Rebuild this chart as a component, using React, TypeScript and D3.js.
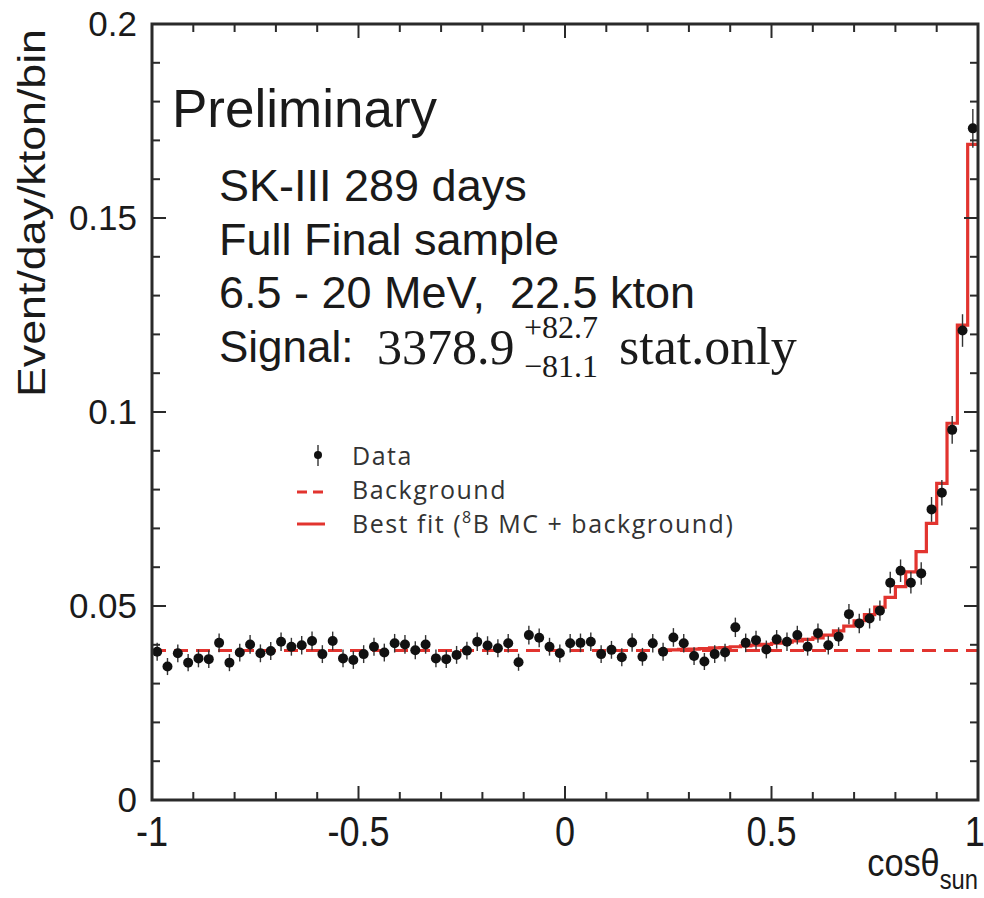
import React, { useEffect, useRef } from "react";
import * as d3 from "d3";

// cos(theta_sun) binning: 80 bins from -1 to 1
const binEdgesLo = -1;
const binWidth = 0.025;

const dataValues = [
  0.0382, 0.0344, 0.0378, 0.0354, 0.0365, 0.0363, 0.0405, 0.0354, 0.038, 0.0401,
  0.0378, 0.0384, 0.0408, 0.0395, 0.0399, 0.041, 0.0376, 0.041, 0.0365, 0.0361,
  0.0376, 0.0395, 0.038, 0.0404, 0.0401, 0.0386, 0.0401, 0.0365, 0.0363, 0.0374,
  0.0385, 0.0408, 0.0398, 0.0391, 0.0404, 0.0355, 0.0425, 0.0418, 0.0395, 0.0378,
  0.0404, 0.0405, 0.0408, 0.0376, 0.0387, 0.0368, 0.0406, 0.0369, 0.0404, 0.0382,
  0.0419, 0.0404, 0.0371, 0.0357, 0.0376, 0.038, 0.0445, 0.0405, 0.0412, 0.0388,
  0.0414, 0.0408, 0.0425, 0.0395, 0.043, 0.0399, 0.0421, 0.0479, 0.0455, 0.0468,
  0.0488, 0.056, 0.0591, 0.056, 0.0584, 0.0749, 0.0792, 0.0954, 0.121, 0.1731,
];

const dataErrors = [
  0.0023, 0.0022, 0.0023, 0.0022, 0.0023, 0.0023, 0.0024, 0.0022, 0.0023, 0.0024,
  0.0023, 0.0023, 0.0024, 0.0023, 0.0024, 0.0024, 0.0023, 0.0024, 0.0023, 0.0023,
  0.0023, 0.0023, 0.0023, 0.0024, 0.0024, 0.0023, 0.0024, 0.0023, 0.0023, 0.0023,
  0.0023, 0.0024, 0.0024, 0.0023, 0.0024, 0.0022, 0.0024, 0.0024, 0.0023, 0.0023,
  0.0024, 0.0024, 0.0024, 0.0023, 0.0023, 0.0023, 0.0024, 0.0023, 0.0024, 0.0023,
  0.0024, 0.0024, 0.0023, 0.0022, 0.0023, 0.0023, 0.0025, 0.0024, 0.0024, 0.0023,
  0.0024, 0.0024, 0.0024, 0.0023, 0.0025, 0.0024, 0.0024, 0.0026, 0.0025, 0.0026,
  0.0026, 0.0028, 0.0029, 0.0028, 0.0029, 0.0032, 0.0033, 0.0036, 0.0042, 0.005,
];

// best fit histogram (8B MC + background), drawn from bin 49 on
const fitStartBin = 49;
const fitValues = [
  0.0386, 0.0387, 0.0388, 0.0389, 0.039, 0.0392, 0.0393, 0.0395, 0.0397, 0.0399,
  0.0401, 0.0404, 0.0407, 0.041, 0.0414, 0.0418, 0.0425, 0.0436, 0.0448, 0.0462,
  0.0478, 0.0497, 0.0522, 0.055, 0.0588, 0.064, 0.0713, 0.0816, 0.0971, 0.1224,
  0.169,
];

const background = 0.0385;

const xTickLabels = ["-1", "-0.5", "0", "0.5", "1"];
const yTickLabels = ["0", "0.05", "0.1", "0.15", "0.2"];

const infoLines = ["SK-III 289 days", "Full Final sample", "6.5 - 20 MeV,  22.5 kton"];
const legendLabels = ["Data", "Background", "Best fit ("];

const RED = "#e2342f";
const INK = "#1a1a1a";
const SANS = "'Liberation Sans', Arial, sans-serif";
const SERIF = "'Liberation Serif', 'Times New Roman', serif";
const LEG = "'Open Sans', 'Noto Sans', sans-serif";

const App = () => {
  const ref = useRef<SVGSVGElement>(null);

  useEffect(() => {
    const svg = d3.select(ref.current);
    svg.selectAll("*").remove();

    const left = 152, right = 978, top = 24, bottom = 800;
    const x = d3.scaleLinear().domain([-1, 1]).range([left, right]);
    const y = d3.scaleLinear().domain([0, 0.2]).range([bottom, top]);

    const center = (i: number) => binEdgesLo + (i + 0.5) * binWidth;

    // background (dashed)
    svg
      .append("line")
      .attr("x1", x(-1))
      .attr("x2", x(1))
      .attr("y1", y(background))
      .attr("y2", y(background))
      .attr("stroke", RED)
      .attr("stroke-width", 3)
      .attr("stroke-dasharray", "14 8");

    // best fit histogram
    const steps: [number, number][] = [];
    fitValues.forEach((v, k) => {
      const i = fitStartBin + k;
      steps.push([binEdgesLo + i * binWidth, v]);
      steps.push([binEdgesLo + (i + 1) * binWidth, v]);
    });
    const stepLine = d3
      .line<[number, number]>()
      .x((d) => x(d[0]))
      .y((d) => y(d[1]));
    svg
      .append("path")
      .attr("d", stepLine(steps))
      .attr("fill", "none")
      .attr("stroke", RED)
      .attr("stroke-width", 3.2);

    // data points with error bars
    const pts = svg.append("g");
    dataValues.forEach((v, i) => {
      pts
        .append("line")
        .attr("x1", x(center(i)))
        .attr("x2", x(center(i)))
        .attr("y1", y(v - dataErrors[i]))
        .attr("y2", y(v + dataErrors[i]))
        .attr("stroke", "#333")
        .attr("stroke-width", 1.4);
      pts
        .append("circle")
        .attr("cx", x(center(i)))
        .attr("cy", y(v))
        .attr("r", 5)
        .attr("fill", "#111");
    });

    // frame + ticks
    const frame = svg.append("g").attr("stroke", "#2a2a2a");
    frame
      .append("rect")
      .attr("x", left)
      .attr("y", top)
      .attr("width", right - left)
      .attr("height", bottom - top)
      .attr("fill", "none")
      .attr("stroke-width", 3);

    d3.range(-1, 1.0001, 0.1).forEach((t) => {
      const major = Math.abs(t * 2 - Math.round(t * 2)) < 1e-6;
      const len = major ? 14 : 8;
      frame.append("line").attr("x1", x(t)).attr("x2", x(t)).attr("y1", bottom).attr("y2", bottom - len).attr("stroke-width", 2);
      frame.append("line").attr("x1", x(t)).attr("x2", x(t)).attr("y1", top).attr("y2", top + len).attr("stroke-width", 2);
    });
    d3.range(0, 0.2001, 0.01).forEach((t) => {
      const major = Math.abs(t * 20 - Math.round(t * 20)) < 1e-6;
      const len = major ? 14 : 8;
      frame.append("line").attr("y1", y(t)).attr("y2", y(t)).attr("x1", left).attr("x2", left + len).attr("stroke-width", 2);
      frame.append("line").attr("y1", y(t)).attr("y2", y(t)).attr("x1", right).attr("x2", right - len).attr("stroke-width", 2);
    });

    // tick labels (narrow look on the x axis)
    xTickLabels.forEach((s) => {
      svg
        .append("text")
        .attr("transform", `translate(${x(+s)},846) scale(0.86,1)`)
        .attr("text-anchor", s === "1" ? "end" : "middle")
        .attr("dx", s === "1" ? 8 : 0)
        .attr("font-family", SANS)
        .attr("font-size", 42)
        .attr("fill", INK)
        .text(s);
    });
    yTickLabels.forEach((s) => {
      svg
        .append("text")
        .attr("x", 137)
        .attr("y", y(+s) + 12)
        .attr("text-anchor", "end")
        .attr("font-family", SANS)
        .attr("font-size", 35)
        .attr("fill", INK)
        .text(s);
    });

    // axis titles
    svg
      .append("text")
      .attr("transform", "translate(45,213) rotate(-90)")
      .attr("text-anchor", "middle")
      .attr("font-family", SANS)
      .attr("font-size", 39)
      .attr("textLength", 368)
      .attr("lengthAdjust", "spacingAndGlyphs")
      .attr("fill", INK)
      .text("Event/day/kton/bin");

    const xt = svg
      .append("text")
      .attr("transform", "translate(978,876) scale(0.88,1)")
      .attr("text-anchor", "end")
      .attr("font-family", SANS)
      .attr("font-size", 39)
      .attr("fill", INK);
    xt.append("tspan").text("cosθ");
    xt.append("tspan").attr("font-size", 27).attr("dy", 13).text("sun");

    // annotation text
    svg
      .append("text")
      .attr("x", 172)
      .attr("y", 127)
      .attr("font-family", SANS)
      .attr("font-size", 53)
      .attr("fill", INK)
      .text("Preliminary");
    infoLines.forEach((s, i) => {
      svg
        .append("text")
        .attr("x", 219)
        .attr("y", 201 + i * 53.5)
        .attr("font-family", SANS)
        .attr("font-size", 45)
        .attr("fill", INK)
        .attr("style", "white-space: pre")
        .text(s);
    });
    svg
      .append("text")
      .attr("x", 219)
      .attr("y", 362)
      .attr("font-family", SANS)
      .attr("font-size", 44)
      .attr("fill", INK)
      .text("Signal:");
    svg
      .append("text")
      .attr("x", 377)
      .attr("y", 364)
      .attr("font-family", SERIF)
      .attr("font-size", 50)
      .attr("fill", INK)
      .text("3378.9");
    svg
      .append("text")
      .attr("x", 524)
      .attr("y", 338)
      .attr("font-family", SERIF)
      .attr("font-size", 32)
      .attr("fill", INK)
      .text("+82.7");
    svg
      .append("text")
      .attr("x", 524)
      .attr("y", 377)
      .attr("font-family", SERIF)
      .attr("font-size", 32)
      .attr("fill", INK)
      .text("\u221281.1");
    svg
      .append("text")
      .attr("x", 619)
      .attr("y", 364)
      .attr("font-family", SERIF)
      .attr("font-size", 52)
      .attr("fill", INK)
      .text("stat.only");

    // legend
    const lg = svg.append("g");
    lg.append("line").attr("x1", 318).attr("x2", 318).attr("y1", 445).attr("y2", 466).attr("stroke", "#333").attr("stroke-width", 1.4);
    lg.append("circle").attr("cx", 318).attr("cy", 455).attr("r", 4).attr("fill", "#111");
    lg.append("line").attr("x1", 297).attr("x2", 325).attr("y1", 492).attr("y2", 492).attr("stroke", RED).attr("stroke-width", 3).attr("stroke-dasharray", "10 6");
    lg.append("line").attr("x1", 297).attr("x2", 325).attr("y1", 524).attr("y2", 524).attr("stroke", RED).attr("stroke-width", 3);
    legendLabels.forEach((s, i) => {
      const t = lg
        .append("text")
        .attr("x", 352)
        .attr("y", 465 + i * 34)
        .attr("font-family", LEG)
        .attr("font-size", 25)
        .attr("letter-spacing", 1.5)
        .attr("fill", "#333")
        .text(s);
      if (i === 2) {
        t.append("tspan").attr("font-size", 16).attr("dy", -10).text("8");
        t.append("tspan").attr("dy", 10).text("B MC + background)");
      }
    });
  }, []);

  return (
    <svg
      ref={ref}
      width={984}
      height={898}
      style={{ position: "absolute", left: 0, top: 0, background: "#fff" }}
    />
  );
};

export default App;
